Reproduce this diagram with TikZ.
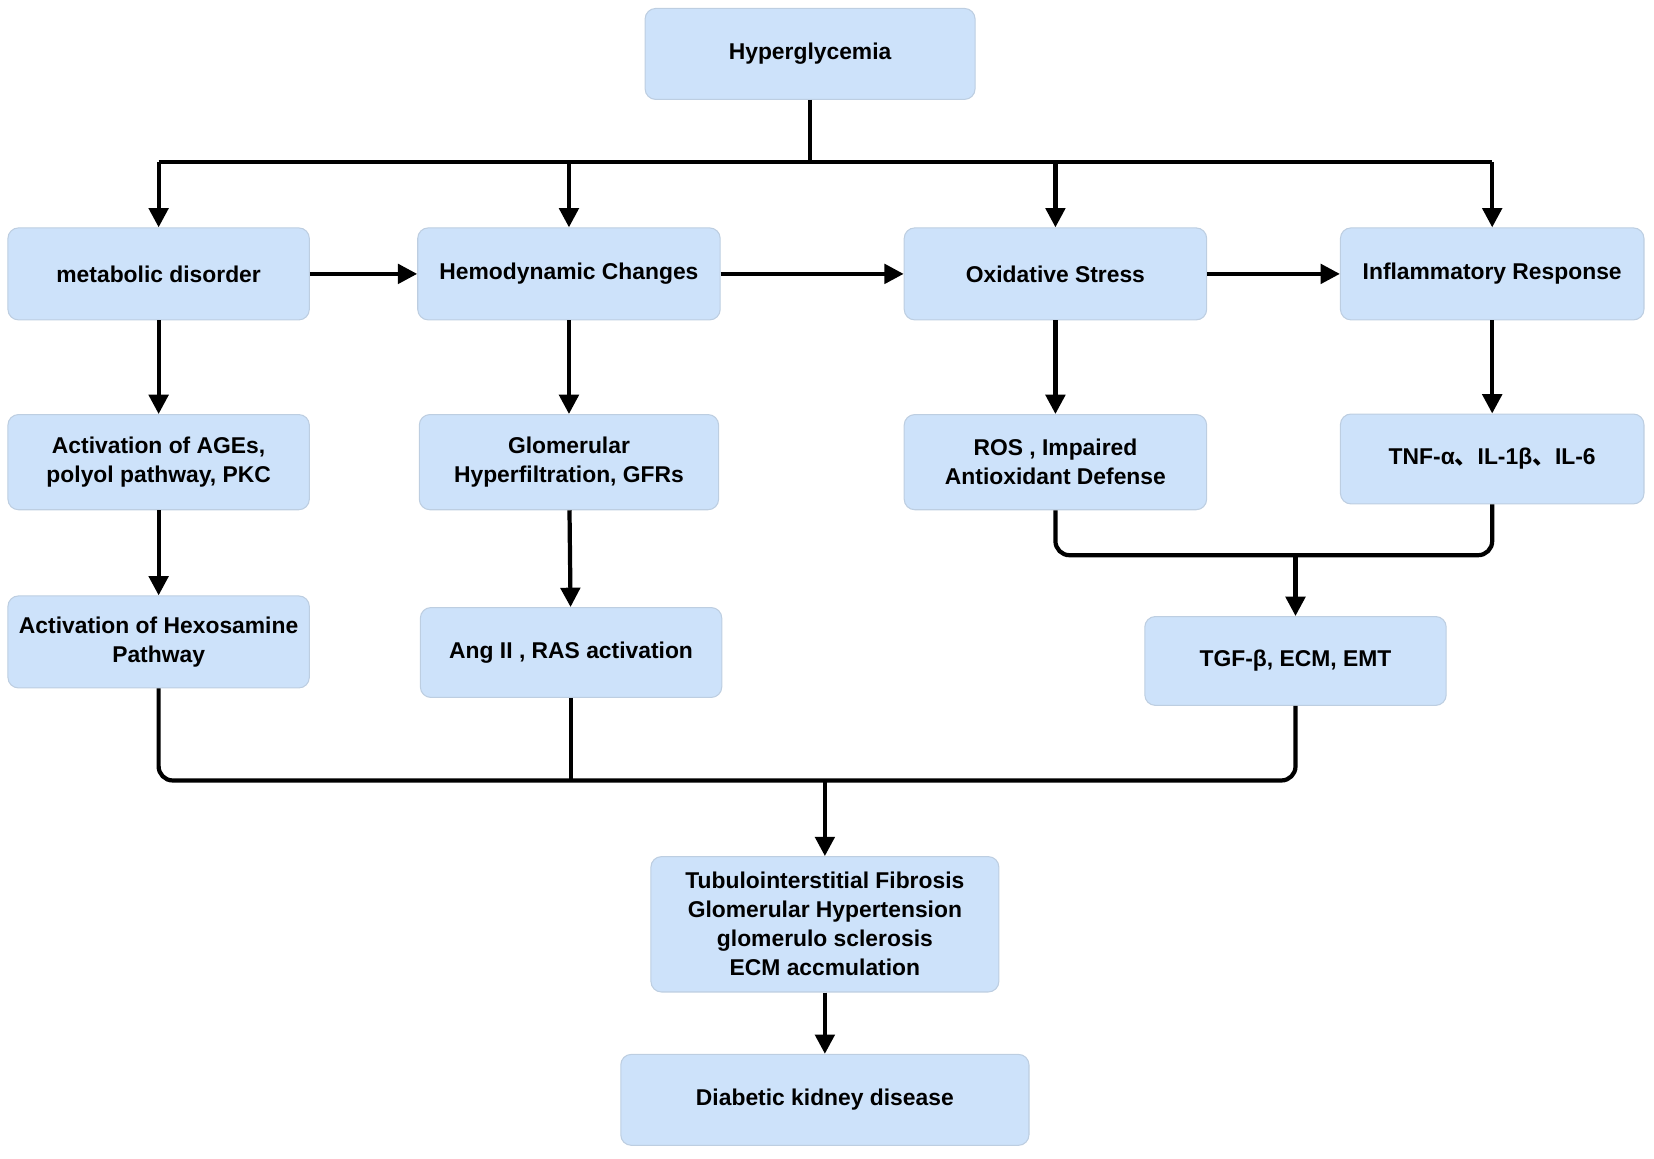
\documentclass[tikz,border=0pt]{standalone}
\usepackage{fontspec}
\setmainfont{Liberation Sans}
\newfontfamily\cjk{Noto Sans CJK SC}
\usetikzlibrary{arrows.meta}
\definecolor{boxblue}{RGB}{205,226,250}
\tikzset{
  box/.style={draw=boxblue!80!gray, line width=0.6pt, fill=boxblue, rounded corners=6pt,
    align=center, font=\fontsize{13}{16.5}\selectfont\bfseries, inner sep=0pt},
  link/.style={line width=2.4pt, black},
  arr/.style={link, -{Triangle[length=11pt,width=11pt]}}
}
\begin{document}
\begin{tikzpicture}[x=0.02115cm,y=-0.02115cm]
\useasboundingbox (0,0) rectangle (1564,1095);
\node[box, minimum width=312*0.02115cm, minimum height=86*0.02115cm] (hyp) at (766,51) {Hyperglycemia};
% first row
\node[box, minimum width=285*0.02115cm, minimum height=87*0.02115cm] (meta) at (150,259) {metabolic disorder};
\node[box, minimum width=286*0.02115cm, minimum height=87*0.02115cm] (hemo) at (538,259) {Hemodynamic Changes};
\node[box, minimum width=286*0.02115cm, minimum height=87*0.02115cm] (oxi) at (998,259) {Oxidative Stress};
\node[box, minimum width=287*0.02115cm, minimum height=87*0.02115cm] (infl) at (1411,259) {Inflammatory Response};
% second row
\node[box, minimum width=285*0.02115cm, minimum height=90*0.02115cm] (ages) at (150,437) {Activation of AGEs,\\polyol pathway, PKC};
\node[box, minimum width=283*0.02115cm, minimum height=90*0.02115cm] (glom) at (538,437) {Glomerular\\Hyperfiltration, GFRs};
\node[box, minimum width=286*0.02115cm, minimum height=90*0.02115cm] (ros) at (998,437) {ROS , Impaired\\Antioxidant Defense};
\node[box, minimum width=287*0.02115cm, minimum height=85*0.02115cm] (tnf) at (1411,434) {TNF-α{\cjk 、}IL-1β{\cjk 、}IL-6};
% third row
\node[box, minimum width=285*0.02115cm, minimum height=87*0.02115cm] (hexo) at (150,607) {Activation of Hexosamine\\Pathway};
\node[box, minimum width=285*0.02115cm, minimum height=85*0.02115cm] (ang) at (540,617) {Ang II , RAS activation};
\node[box, minimum width=285*0.02115cm, minimum height=84*0.02115cm] (tgf) at (1225,625) {TGF-β, ECM, EMT};
% outcome
\node[box, minimum width=329*0.02115cm, minimum height=128*0.02115cm] (fib) at (780,874) {Tubulointerstitial Fibrosis\\Glomerular Hypertension\\glomerulo sclerosis\\ECM accmulation};
\node[box, minimum width=386*0.02115cm, minimum height=86*0.02115cm] (dkd) at (780,1040) {Diabetic kidney disease};
\coordinate (top) at (766,153);
\coordinate (join) at (1225,525);
\coordinate (low) at (780,738);
\draw[link] (hyp.south) -- (top);
\draw[link] (meta.north |- top) -- (infl.north |- top);
\foreach \n in {meta,hemo,oxi,infl}
  \draw[arr] (\n.north |- top) -- (\n.north);
\draw[arr] (meta) -- (hemo);
\draw[arr] (hemo) -- (oxi);
\draw[arr] (oxi) -- (infl);
\draw[arr] (meta) -- (ages);
\draw[arr] (ages) -- (hexo);
\draw[arr] (hemo) -- (glom);
\draw[arr] (glom) -- (ang);
\draw[arr] (oxi) -- (ros);
\draw[arr] (infl) -- (tnf);
\draw[link, rounded corners=8pt] (ros.south) |- (join) -| (tnf.south);
\draw[arr] (join) -- (tgf.north);
\draw[link, rounded corners=8pt] (hexo.south) |- (low) -| (tgf.south);
\draw[link] (ang.south) -- (ang.south |- low);
\draw[arr] (low) -- (fib.north);
\draw[arr] (fib) -- (dkd);
\end{tikzpicture}
\end{document}
